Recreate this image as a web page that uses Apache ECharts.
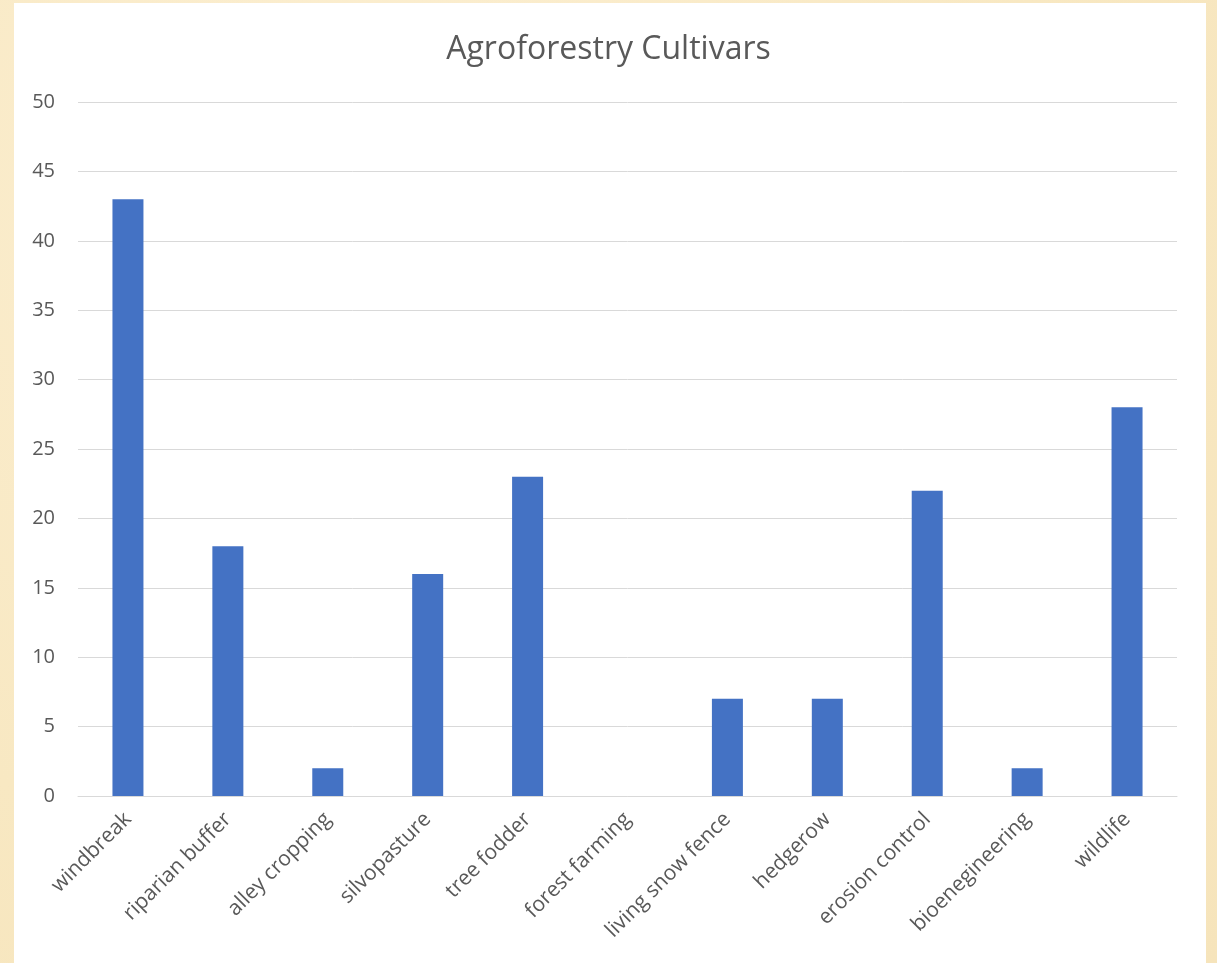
<!DOCTYPE html>
<html>
<head>
<meta charset="utf-8">
<script src="https://cdn.jsdelivr.net/npm/echarts@6/dist/echarts.min.js"></script>
<style>
  html, body { margin: 0; padding: 0; width: 1217px; height: 963px; overflow: hidden;
    background: radial-gradient(circle at 30% 20%, #fcefd2 0%, #f8e8c2 60%, #f6e4bb 100%); }
  #paper { position: absolute; left: 14px; top: 3px; width: 1192px; height: 960px; background: #ffffff; }
  #chart { position: absolute; left: 0; top: 0; width: 1217px; height: 963px; }
</style>
</head>
<body>
<div id="paper"></div>
<div id="chart"></div>
<script>
const categories = ["windbreak", "riparian buffer", "alley cropping", "silvopasture", "tree fodder",
  "forest farming", "living snow fence", "hedgerow", "erosion control", "bioenegineering", "wildlife"];
const values = [43, 18, 2, 16, 23, 0, 7, 7, 22, 2, 28];
const chartTitle = "Agroforestry Cultivars";

const FONT = '"Open Sans", "Noto Sans", sans-serif';
const chart = echarts.init(document.getElementById('chart'), null, { renderer: 'canvas' });
chart.setOption({
  backgroundColor: 'transparent',
  animation: false,
  textStyle: { fontFamily: FONT },
  title: {
    text: chartTitle,
    left: 'center',
    top: 29,
    textStyle: { fontFamily: FONT, fontSize: 32, fontWeight: 'normal', color: '#595959' }
  },
  grid: { left: 78, right: 40, top: 102, bottom: 167, containLabel: false },
  xAxis: {
    type: 'category',
    data: categories,
    axisLine: { show: true, lineStyle: { color: '#d9d9d9', width: 1 } },
    axisTick: { show: false },
    axisLabel: { rotate: 45, fontSize: 21, color: '#595959', margin: 20, interval: 0, fontFamily: FONT }
  },
  yAxis: {
    type: 'value',
    min: 0, max: 50, interval: 5,
    axisLine: { show: false },
    axisTick: { show: false },
    splitLine: { lineStyle: { color: '#d9d9d9', width: 1 } },
    axisLabel: { fontSize: 20, color: '#595959', margin: 23, fontFamily: FONT }
  },
  series: [{
    type: 'bar',
    data: values,
    barWidth: 31,
    itemStyle: { color: '#4472c4' }
  }]
});
</script>
</body>
</html>
